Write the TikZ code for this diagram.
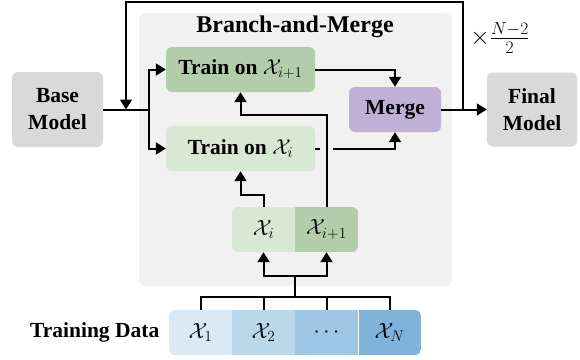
\RequirePackage{fix-cm}
\documentclass[tikz,border=0pt]{standalone}
\usepackage[no-math]{fontspec}
\setmainfont{Liberation Serif}
\usetikzlibrary{arrows.meta,calc}
\definecolor{boxgray}{HTML}{D9D9D9}
\definecolor{bggray}{HTML}{F1F1F1}
\definecolor{lgreen}{HTML}{D9E7D5}
\definecolor{dgreen}{HTML}{B1CDAA}
\definecolor{mpurple}{HTML}{C1B0D6}
\definecolor{blueA}{HTML}{DAE9F4}
\definecolor{blueB}{HTML}{BBD7EC}
\definecolor{blueC}{HTML}{9FC6E5}
\definecolor{blueD}{HTML}{7FB3DC}
\tikzset{
  box/.style={rounded corners=6pt, inner sep=0pt, align=center,
    font=\bfseries\fontsize{21.5}{27}\selectfont},
  cell/.style={inner sep=0pt, minimum width=63pt, minimum height=45pt,
    font=\fontsize{22}{25}\selectfont},
  conn/.style={line width=2pt},
  arr/.style={line width=2pt, -{Triangle[width=12pt,length=10pt]}},
}
\begin{document}
\begin{tikzpicture}[x=1pt,y=-1pt]
\useasboundingbox[fill=white] (0,0) rectangle (580,359);
% background panel
\fill[bggray, rounded corners=7pt] (139,13) rectangle (452,286);
\node[font=\bfseries\fontsize{24}{28}\selectfont] (title) at (295,27) {Branch-and-Merge};
% main boxes
\node[box, fill=boxgray, minimum width=91pt, minimum height=75pt] (base) at (57.5,109.5) {Base\\Model};
\node[box, fill=boxgray, minimum width=90pt, minimum height=74pt] (final) at (532,109.5) {Final\\Model};
\node[box, fill=dgreen, minimum width=149pt, minimum height=45pt] (tip) at (240.5,69.5) {Train on $\mathcal{X}_{i+1}$};
\node[box, fill=lgreen, minimum width=149pt, minimum height=45pt] (ti) at (240.5,148.5) {Train on $\mathcal{X}_{i}$};
\node[box, fill=mpurple, minimum width=92pt, minimum height=45pt] (merge) at (395,109.5) {Merge};
% X_i / X_{i+1} pair
\begin{scope}
\clip[rounded corners=6pt] (232,207) rectangle (358,252);
\fill[lgreen] (232,207) rectangle (295,252);
\fill[dgreen] (295,207) rectangle (358,252);
\end{scope}
\node[cell] (xi) at (263.5,229.5) {$\mathcal{X}_i$};
\node[cell] (xip) at (326.5,229.5) {$\mathcal{X}_{i+1}$};
% training data bar
\begin{scope}
\clip[rounded corners=6pt] (169,310) rectangle (421,355);
\fill[blueA] (169,310) rectangle (232,355);
\fill[blueB] (232,310) rectangle (295,355);
\fill[blueC] (295,310) rectangle (358,355);
\fill[blueD] (358,310) rectangle (421,355);
\draw[white, line width=1pt] (358,310) -- (358,355);
\end{scope}
\node[cell] (d1) at (200.5,332.5) {$\mathcal{X}_1$};
\node[cell] (d2) at (263.5,332.5) {$\mathcal{X}_2$};
\node[cell] (d3) at (326.5,332.5) {$\cdots$};
\node[cell] (dN) at (389.5,332.5) {$\mathcal{X}_N$};
\node[anchor=east, inner sep=0pt, font=\bfseries\fontsize{21.5}{25}\selectfont] (tdl) at (159.5,332.5) {Training Data};
% connectors: base to branches
\draw[conn] (base.east) -- ++(46,0) coordinate (br);
\draw[arr] (br) |- (tip.west);
\draw[arr] (br) |- (ti.west);
% merge to final with loop
\draw[arr] (merge.east) -- (final.west);
\coordinate (loopA) at (463,109.5);
\coordinate (lb) at (126,109.5);
\draw[arr] (loopA) -- (463,1.5) -| (lb);
\node[font=\fontsize{25}{28}\selectfont] (rep) at (500,38) {$\times\frac{N-2}{2}$};
% train to merge
\draw[arr] (tip.east) -| (merge.north);
\draw[conn] (ti.east) -- ++(5,0);
\draw[arr] ($(ti.east)+(18,0)$) -| (merge.south);
% data pair to train
\draw[arr] (xi.north) -- ++(0,-12) -| (ti.south);
\draw[arr] (xip.north) -- ++(0,-92) -| (tip.south);
% training data bus
\draw[conn] (d1.north) -- ++(0,-13) -| (dN.north);
\draw[conn] (d2.north) -- ++(0,-13);
\draw[conn] (d3.north) -- ++(0,-13);
\coordinate (busc) at (295,297);
\draw[conn] (busc) -- (295,276) coordinate (fork);
\draw[arr] (fork) -| (xi.south);
\draw[arr] (fork) -| (xip.south);
\end{tikzpicture}
\end{document}
